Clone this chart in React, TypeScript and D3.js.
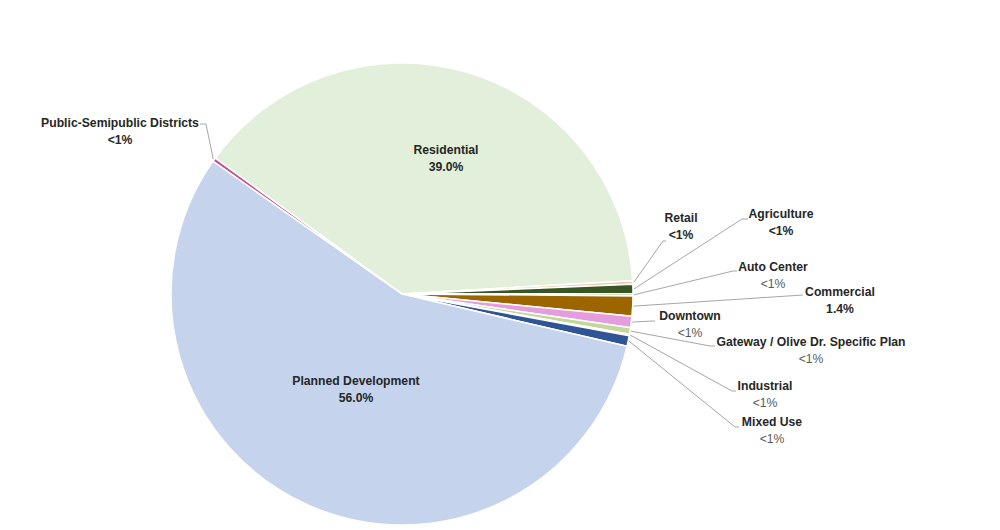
import React from "react";
import * as d3 from "d3";

const categories = [
  "Residential",
  "Retail",
  "Agriculture",
  "Auto Center",
  "Commercial",
  "Downtown",
  "Gateway / Olive Dr. Specific Plan",
  "Industrial",
  "Mixed Use",
  "Planned Development",
  "Public-Semipublic Districts",
];
const values = [39.0, 0.25, 0.65, 0.15, 1.4, 0.8, 0.45, 0.1, 0.75, 56.0, 0.25];
const valueLabels = ["39.0%", "<1%", "<1%", "<1%", "1.4%", "<1%", "<1%", "<1%", "<1%", "56.0%", "<1%"];
const colors = [
  "#E2EFDA", "#F8CBAD", "#375623", "#A9D08E", "#9C6500", "#E59EDD",
  "#C4D79B", "#7F7F7F", "#2F5597", "#C5D3EC", "#C0508F",
];

// label layout: [labelCenterX, labelY, elbowX, elbowY, endX, inside, valueBold]
const labelLayout: [number, number, number, number, number, boolean, boolean][] = [
  [446, 150, 0, 0, 0, true, true],
  [681, 218, 663, 241, 666, false, true],
  [781, 214, 742, 219, 748, false, true],
  [773, 267, 733, 271, 737, false, false],
  [840, 292, 803, 295, 803, false, true],
  [690, 316, 652, 321, 655, false, false],
  [811, 342, 710, 346, 715, false, false],
  [765, 386, 732, 391, 736, false, false],
  [772, 422, 735, 427, 739, false, false],
  [356, 381, 0, 0, 0, true, true],
  [120, 123, 206, 124, 200, false, true],
];

const W = 1000, H = 530;
const cx = 402, cy = 294, R = 231;
const FONT = "'Liberation Sans Narrow', 'Liberation Sans', Arial, sans-serif";

export default function App() {
  const pie = d3.pie<number>().sort(null).value((d) => d).startAngle(-54 * Math.PI / 180).endAngle(306 * Math.PI / 180);
  const arcs = pie(values);
  const arc = d3.arc<d3.PieArcDatum<number>>().innerRadius(0).outerRadius(R);

  return (
    <svg width={W} height={H} style={{ position: "absolute", left: 0, top: 0, background: "#fff" }}>
      <g transform={`translate(${cx},${cy})`}>
        {arcs.map((a, i) => (
          <path key={i} d={arc(a) || ""} fill={colors[i]} stroke="#fff" strokeWidth={1.5} strokeLinejoin="round" />
        ))}
      </g>
      {arcs.map((a, i) => {
        const [lx, ly, ex, ey, endX, inside] = labelLayout[i];
        if (inside) return null;
        const mid = (a.startAngle + a.endAngle) / 2;
        const sx = cx + Math.sin(mid) * (R + 1);
        const sy = cy - Math.cos(mid) * (R + 1);
        return (
          <polyline key={"l" + i} points={`${sx},${sy} ${ex},${ey} ${endX},${ey}`} fill="none" stroke="#A6A6A6" strokeWidth={1} />
        );
      })}
      {categories.map((c, i) => {
        const [lx, ly, , , , , vb] = labelLayout[i];
        return (
          <g key={"t" + i} fontFamily={FONT} fontSize={12.2} textAnchor="middle">
            <text x={lx} y={ly + 4} fontWeight="bold" fill="#262626">{c}</text>
            <text x={lx} y={ly + 21} fontWeight={vb ? "bold" : "normal"} fill={vb ? "#262626" : "#595959"}>{valueLabels[i]}</text>
          </g>
        );
      })}
    </svg>
  );
}
